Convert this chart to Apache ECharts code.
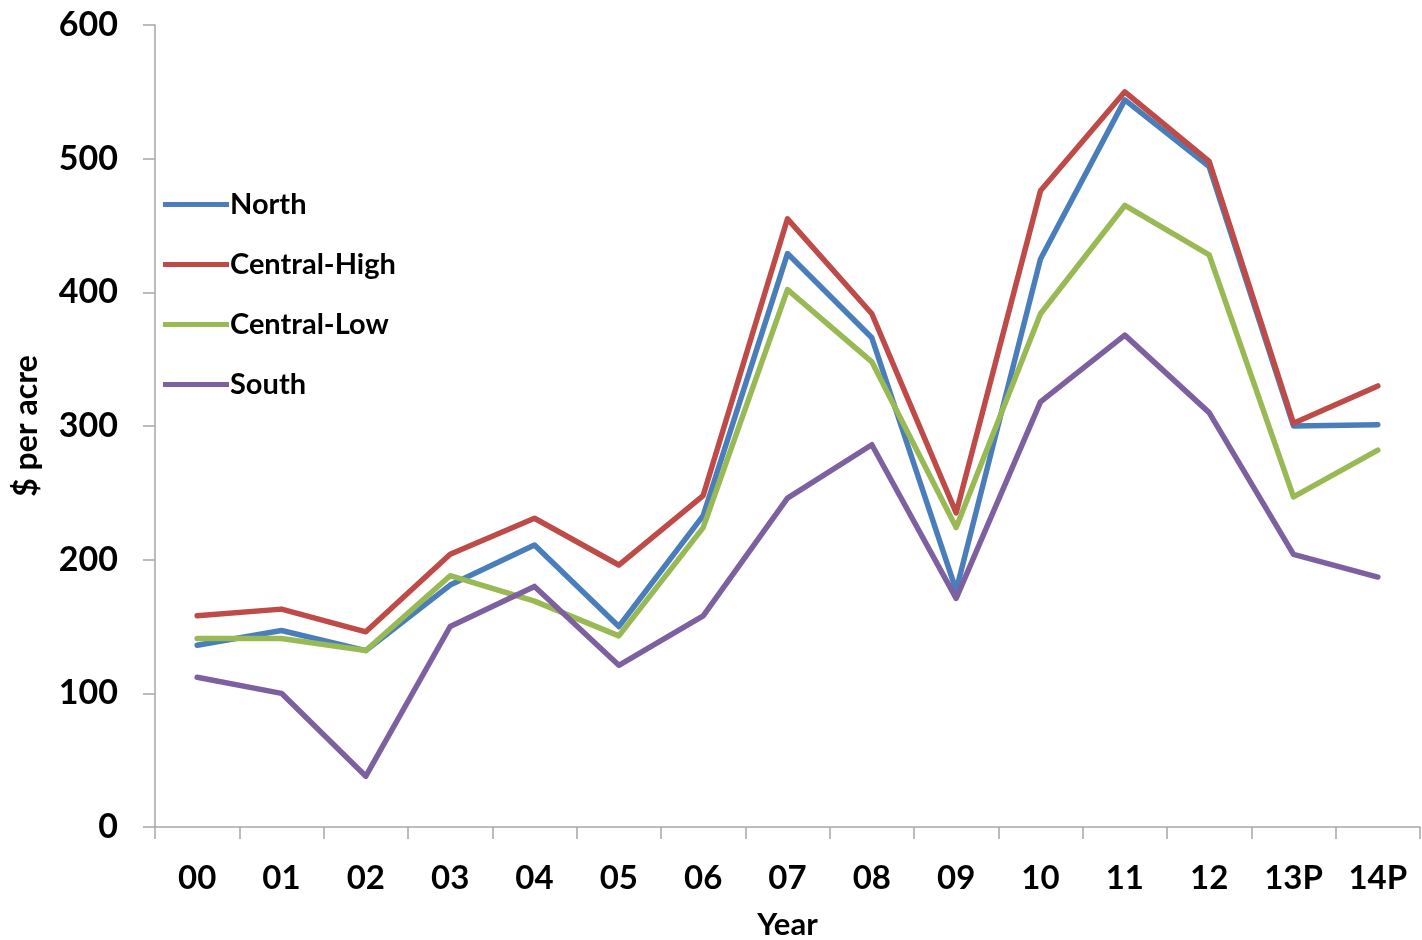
<!DOCTYPE html>
<html>
<head>
<meta charset="utf-8">
<script src="https://cdn.jsdelivr.net/npm/echarts@6/dist/echarts.min.js"></script>
<style>
  html, body { margin: 0; padding: 0; background: #fff; }
  #chart { width: 1422px; height: 940px; }
</style>
</head>
<body>
<div id="chart"></div>
<script>
var years = ['00', '01', '02', '03', '04', '05', '06', '07', '08', '09', '10', '11', '12', '13P', '14P'];
var north = [136, 147, 132, 181, 211, 150, 233, 429, 366, 177, 425, 544, 494, 300, 301];
var centralHigh = [158, 163, 146, 204, 231, 196, 248, 455, 384, 235, 476, 550, 498, 302, 330];
var centralLow = [141, 141, 132, 188, 169, 143, 224, 402, 348, 224, 384, 465, 428, 247, 282];
var south = [112, 100, 38, 150, 180, 121, 158, 246, 286, 171, 318, 368, 310, 204, 187];
var yTicks = [0, 100, 200, 300, 400, 500, 600];

var font = 'Lato, "Open Sans", sans-serif';
var axisGray = '#a6a6a6';

function lineSeries(name, data, color) {
	return {
		name: name,
		type: 'line',
		data: data,
		symbol: 'none',
		lineStyle: { color: color, width: 5.5, cap: 'round', join: 'round' },
		itemStyle: { color: color }
	};
}

var chart = echarts.init(document.getElementById('chart'));
var option = {
	animation: false,
	grid: { left: 155, right: 2, top: 25, bottom: 113, outerBoundsMode: 'none' },
	legend: {
		orient: 'vertical',
		left: 158,
		top: 185,
		itemWidth: 66,
		itemHeight: 14,
		itemGap: 31,
		icon: 'path://M0,0 L66,0 L66,5 L0,5 Z',
		textStyle: { fontFamily: font, fontWeight: 'bold', fontSize: 29, color: '#000', padding: [0, 0, 0, -4] },
		data: ['North', 'Central-High', 'Central-Low', 'South']
	},
	xAxis: {
		type: 'category',
		data: years,
		boundaryGap: true,
		name: 'Year',
		nameLocation: 'middle',
		nameGap: 82,
		nameTextStyle: { fontFamily: font, fontWeight: 'bold', fontSize: 31, color: '#000' },
		axisLine: { lineStyle: { color: axisGray, width: 1.5 } },
		axisTick: { show: true, length: 12, lineStyle: { color: axisGray, width: 1.5 } },
		axisLabel: { fontFamily: font, fontWeight: 'bold', fontSize: 33, color: '#000', margin: 35 }
	},
	yAxis: {
		type: 'value',
		min: yTicks[0],
		max: yTicks[yTicks.length - 1],
		interval: 100,
		name: '$ per acre',
		nameLocation: 'middle',
		nameGap: 112,
		nameRotate: 90,
		nameTextStyle: { fontFamily: font, fontWeight: 'bold', fontSize: 32, color: '#000' },
		splitLine: { show: false },
		axisLine: { show: true, lineStyle: { color: axisGray, width: 1.5 } },
		axisTick: { show: true, length: 12, lineStyle: { color: axisGray, width: 1.5 } },
		axisLabel: { fontFamily: font, fontWeight: 'bold', fontSize: 34, color: '#000', margin: 37 }
	},
	series: [
		lineSeries('North', north, '#4A7EBB'),
		lineSeries('Central-High', centralHigh, '#BE4B48'),
		lineSeries('Central-Low', centralLow, '#98B954'),
		lineSeries('South', south, '#7D60A0')
	]
};
chart.setOption(option);
window.addEventListener('resize', function () {
	chart.resize();
});
</script>
</body>
</html>
